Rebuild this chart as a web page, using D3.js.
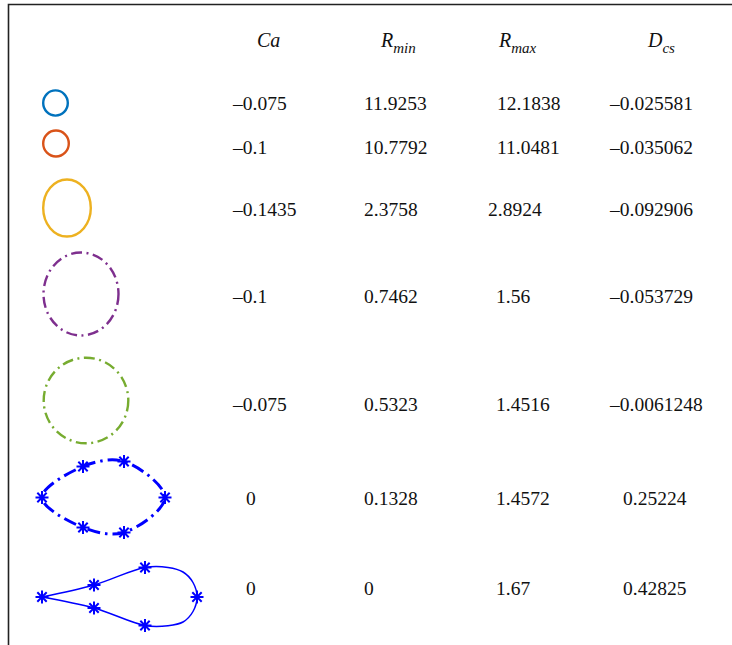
<!DOCTYPE html>
<html>
<head>
<meta charset="utf-8">
<script src="https://cdn.jsdelivr.net/npm/d3@7"></script>
<style>
  html, body { margin: 0; padding: 0; background: #fff; }
  svg { display: block; }
  text { font-family: "Liberation Serif", "Times New Roman", serif; fill: #111; }
</style>
</head>
<body>
<svg id="chart" width="732" height="645"></svg>
<script>
// ---- table values ----
const ca   = [-0.075, -0.1, -0.1435, -0.1, -0.075, 0, 0];
const rMin = [11.9253, 10.7792, 2.3758, 0.7462, 0.5323, 0.1328, 0];
const rMax = [12.1838, 11.0481, 2.8924, 1.56, 1.4516, 1.4572, 1.67];
const dcs  = [-0.025581, -0.035062, -0.092906, -0.053729, -0.0061248, 0.25224, 0.42825];

// ---- outline of each drop (local units, y up) ----
// rows 0-4: ellipses given by half-widths / half-heights
const dropRx = [12.3, 12.8, 23.8, 37.5, 42.3];
const dropRy = [12.6, 13.0, 28.5, 41.5, 42.8];
// row 5: closed contour, every sample carries a star marker
const dropMarksA = [[0, 0], [41, 31], [82, 36], [123, 0], [82, -35], [41, -30]];
// row 6: tear contour from the cusp round the nose and back; markers on a subset
const dropOutlineB = [[0, 0], [52, 12], [103, 29.5], [126, 29.5], [141, 25], [151, 14.5], [155, 0],
                      [151, -14.5], [141, -25], [126, -28.7], [103, -28.5], [52, -11], [0, 0]];
const dropMarksB = [[0, 0], [52, 12], [103, 29.5], [155, 0], [103, -28.5], [52, -11]];

const headers = [
  { main: "Ca", sub: "" },
  { main: "R", sub: "min" },
  { main: "R", sub: "max" },
  { main: "D", sub: "cs" }
];

const colors = ["#0072BD", "#D95319", "#EDB120", "#7E2F8E", "#77AC30", "#0000FF", "#0000FF"];

// ---- layout ----
const svg = d3.select("#chart");
const rowY = d3.scaleOrdinal().domain(d3.range(7)).range([103, 143.5, 208, 294, 400.5, 497.5, 597]);
const textY = d3.scaleOrdinal().domain(d3.range(7)).range([103, 147, 209, 296, 404, 498, 588]);
const dropX = [55.5, 56, 67, 81, 86, 42, 42];
const colX = [233, 364, 497, 610];
const fmt = v => String(v).replace("-", "\u2013");

// frame
svg.append("path")
  .attr("d", "M8.5,645 V4.5 H732")
  .attr("fill", "none")
  .attr("stroke", "#222")
  .attr("stroke-width", 1.6);

// header
const headerX = [257, 381, 499, 648];
const hdr = svg.append("g").attr("font-size", 20).attr("font-style", "italic");
headers.forEach((h, i) => {
  const t = hdr.append("text").attr("x", headerX[i]).attr("y", 47);
  t.append("tspan").text(h.main);
  if (h.sub) {
    t.append("tspan").attr("dy", 6).attr("font-size", 15).text(h.sub);
  }
});

// value columns
const columns = [ca, rMin, rMax, dcs];
const body = svg.append("g").attr("font-size", 19.5);
columns.forEach((col, ci) => {
  const hasNeg = col.some(v => v < 0);
  col.forEach((v, ri) => {
    let x = colX[ci];
    if (hasNeg && v >= 0) x += 13;
    if (ci === 2 && v < 10) x = (ri === 2 ? 488 : 496);
    body.append("text")
      .attr("x", x)
      .attr("y", textY(ri) + 7)
      .text(fmt(v));
  });
});

// ellipses (rows 0-4)
const dashDot = "11,4.5,2,4.5";
dropRx.forEach((rx, i) => {
  svg.append("ellipse")
    .attr("cx", dropX[i])
    .attr("cy", rowY(i))
    .attr("rx", rx)
    .attr("ry", dropRy[i])
    .attr("fill", "none")
    .attr("stroke", colors[i])
    .attr("stroke-width", 2.4)
    .attr("stroke-dasharray", i >= 3 ? dashDot : null);
});

// star marker (plus + cross)
function star(g, x, y, color) {
  const s = 6.5, d = s * 0.72;
  g.append("path")
    .attr("d", `M${x - s},${y}H${x + s}M${x},${y - s}V${y + s}` +
               `M${x - d},${y - d}L${x + d},${y + d}M${x - d},${y + d}L${x + d},${y - d}`)
    .attr("stroke", color)
    .attr("stroke-width", 2)
    .attr("fill", "none");
}

function localScales(i) {
  return [
    d3.scaleLinear().domain([0, 1]).range([dropX[i], dropX[i] + 1]),
    d3.scaleLinear().domain([0, 1]).range([rowY(i), rowY(i) - 1])
  ];
}

// row 5: closed dash-dot egg through sampled points
{
  const i = 5;
  const [sx, sy] = localScales(i);
  const line = d3.line().x(d => sx(d[0])).y(d => sy(d[1])).curve(d3.curveCatmullRomClosed.alpha(0.5));
  const g = svg.append("g");
  g.append("path")
    .attr("d", line(dropMarksA))
    .attr("fill", "none")
    .attr("stroke", colors[i])
    .attr("stroke-width", 3)
    .attr("stroke-dasharray", "13,5,2.5,5");
  dropMarksA.forEach(p => star(g, sx(p[0]), sy(p[1]), colors[i]));
}

// row 6: tear shape with a cusp at the left point
{
  const i = 6;
  const [sx, sy] = localScales(i);
  const line = d3.line().x(d => sx(d[0])).y(d => sy(d[1])).curve(d3.curveCatmullRom.alpha(0.5));
  const g = svg.append("g");
  g.append("path")
    .attr("d", line(dropOutlineB))
    .attr("fill", "none")
    .attr("stroke", colors[i])
    .attr("stroke-width", 1.5);
  dropMarksB.forEach(p => star(g, sx(p[0]), sy(p[1]), colors[i]));
}
</script>
</body>
</html>
